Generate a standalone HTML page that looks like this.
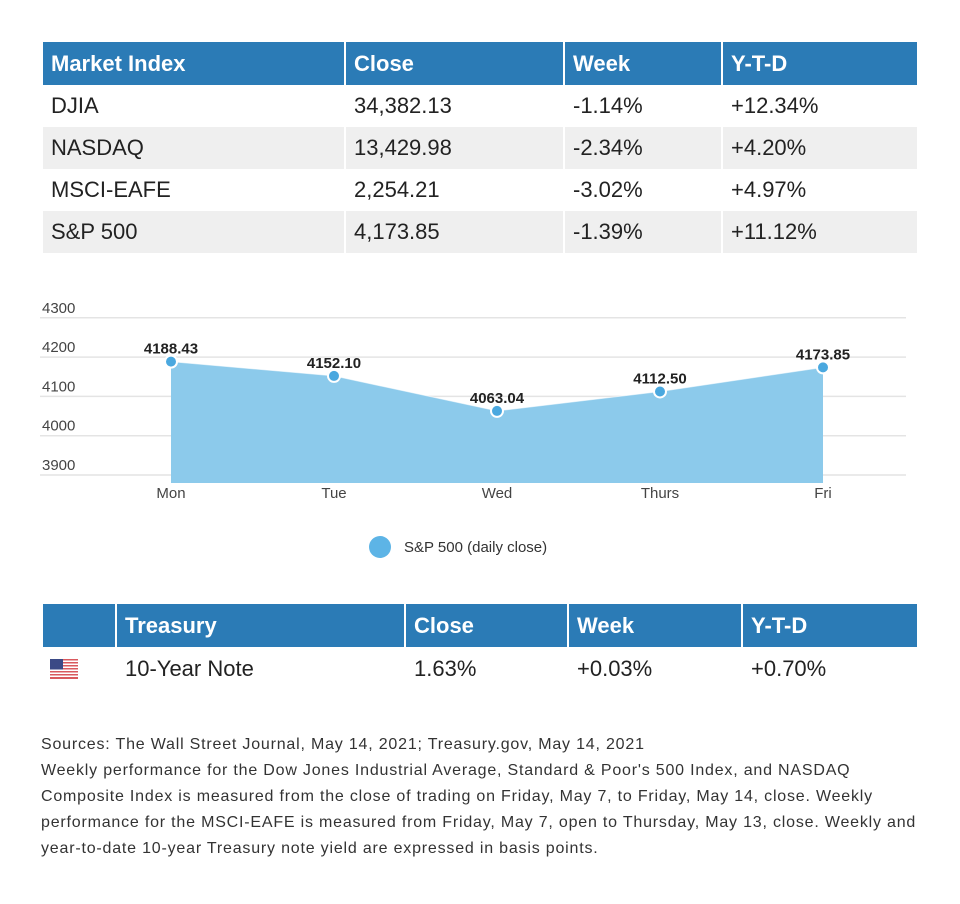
<!DOCTYPE html>
<html><head><meta charset="utf-8"><style>
body{margin:0;width:960px;height:904px;background:#fff;font-family:"Liberation Sans",sans-serif;position:relative;overflow:hidden}
.t{position:absolute;left:41px;border-collapse:collapse;table-layout:fixed}
.t td,.t th{padding:0 0 0 8px;text-align:left;font-size:22px;color:#222;border-left:2px solid #fff;white-space:nowrap}
.t th{background:#2b7bb6;color:#fff;font-weight:bold;height:43px}
.t tr:nth-child(odd) td{background:#efefef}
.t td{height:42px}
#foot{position:absolute;left:41px;top:732px;width:900px;font-size:16px;letter-spacing:0.8px;line-height:26px;color:#333;white-space:nowrap}
</style></head><body>
<table class="t" style="top:42px;width:875px">
<colgroup><col style="width:303px"><col style="width:219px"><col style="width:158px"><col style="width:195px"></colgroup>
<tr><th>Market Index</th><th>Close</th><th>Week</th><th>Y-T-D</th></tr>
<tr><td style="background:#fff">DJIA</td><td style="background:#fff">34,382.13</td><td style="background:#fff">-1.14%</td><td style="background:#fff">+12.34%</td></tr>
<tr><td>NASDAQ</td><td>13,429.98</td><td>-2.34%</td><td>+4.20%</td></tr>
<tr><td style="background:#fff">MSCI-EAFE</td><td style="background:#fff">2,254.21</td><td style="background:#fff">-3.02%</td><td style="background:#fff">+4.97%</td></tr>
<tr><td>S&amp;P 500</td><td>4,173.85</td><td>-1.39%</td><td>+11.12%</td></tr>
</table>

<svg id="chart" width="960" height="580" style="position:absolute;left:0;top:0"></svg>

<table class="t" style="top:604px;width:875px">
<colgroup><col style="width:74px"><col style="width:289px"><col style="width:163px"><col style="width:174px"><col style="width:175px"></colgroup>
<tr><th></th><th>Treasury</th><th>Close</th><th>Week</th><th>Y-T-D</th></tr>
<tr><td style="background:#fff;height:44px"><svg width="28" height="20" viewBox="0 0 28 20" style="display:block;margin-left:-1px">
<rect width="28" height="20" fill="#fff"/>
<g fill="#d9595e"><rect y="0" width="28" height="1.5"/><rect y="3" width="28" height="1.5"/><rect y="6" width="28" height="1.5"/><rect y="9" width="28" height="1.5"/><rect y="12" width="28" height="1.5"/><rect y="15" width="28" height="1.5"/><rect y="18" width="28" height="2"/></g>
<rect width="13" height="10.5" fill="#3b4a86"/></svg></td><td style="background:#fff">10-Year Note</td><td style="background:#fff">1.63%</td><td style="background:#fff">+0.03%</td><td style="background:#fff">+0.70%</td></tr>
</table>

<div id="foot">Sources: The Wall Street Journal, May 14, 2021; Treasury.gov, May 14, 2021<br>Weekly performance for the Dow Jones Industrial Average, Standard &amp; Poor's 500 Index, and NASDAQ<br>Composite Index is measured from the close of trading on Friday, May 7, to Friday, May 14, close. Weekly<br>performance for the MSCI-EAFE is measured from Friday, May 7, open to Thursday, May 13, close. Weekly and<br>year-to-date 10-year Treasury note yield are expressed in basis points.</div>

<script>
const days = ["Mon","Tue","Wed","Thurs","Fri"];
const closes = [4188.43,4152.10,4063.04,4112.50,4173.85];
const closeLabels = ["4188.43","4152.10","4063.04","4112.50","4173.85"];
const yTicks = [3900,4000,4100,4200,4300];
const legendLabel = "S&P 500 (daily close)";

const svg = document.getElementById('chart');
const NS = 'http://www.w3.org/2000/svg';
const x0 = 171, xStep = 163, yBase = 475, yMin = 3900, pxPer = 0.393, plotBottom = 483;
const xs = i => x0 + i * xStep;
const ys = v => yBase - (v - yMin) * pxPer;
function mk(tag, attrs, parent){const e=document.createElementNS(NS,tag);for(const k in attrs)e.setAttribute(k,attrs[k]);(parent||svg).appendChild(e);return e;}

yTicks.forEach(t=>{
  const g = mk('line',{x1:40,x2:906,y1:ys(t),y2:ys(t),stroke:'#e4e4e4','stroke-width':1.5});
  
  
  const tx = mk('text',{x:42,y:ys(t)-5,'font-size':15,fill:'#444','font-family':'Liberation Sans, sans-serif'});
  tx.textContent = t;
  
  
});

let d = 'M'+xs(0)+','+plotBottom;
closes.forEach((v,i)=>{ d += ' L'+xs(i)+','+ys(v); });
d += ' L'+xs(closes.length-1)+','+plotBottom+' Z';
const area = mk('path',{d:d,fill:'#8ccaeb'});


let ld = '';
closes.forEach((v,i)=>{ ld += (i?' L':'M')+xs(i)+','+ys(v); });
const ln = mk('path',{d:ld,fill:'none',stroke:'#ffffff','stroke-width':1,'stroke-opacity':0.6});



closes.forEach((v,i)=>{
  const c = mk('circle',{cx:xs(i),cy:ys(v),r:6,fill:'#4aa8df',stroke:'#fff','stroke-width':2});
  
  
  const t = mk('text',{x:xs(i),y:ys(v)-8,'text-anchor':'middle','font-size':15,'font-weight':'bold',fill:'#222','font-family':'Liberation Sans, sans-serif'});
  t.textContent = closeLabels[i];
  
  
  const xl = mk('text',{x:xs(i),y:498,'text-anchor':'middle','font-size':15,fill:'#444','font-family':'Liberation Sans, sans-serif'});
  xl.textContent = days[i];
  
  
});

const lc = mk('circle',{cx:380,cy:547,r:11,fill:'#5db4e6'});


const lt = mk('text',{x:404,y:552,'font-size':15,fill:'#333','font-family':'Liberation Sans, sans-serif'});
lt.textContent = legendLabel;


</script>
</body></html>
